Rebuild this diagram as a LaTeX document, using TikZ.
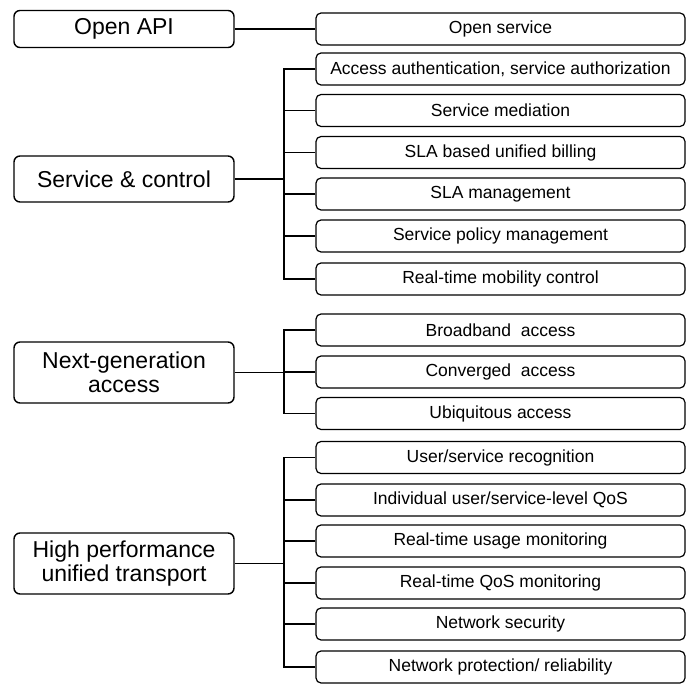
\documentclass[tikz,border=0pt]{standalone}
\usepackage{fontspec}
\setmainfont{Liberation Sans}
\begin{document}
\begin{tikzpicture}[x=1pt,y=-1pt,
	group/.style={draw,line width=1.4pt,rounded corners=6pt,minimum width=220pt,align=center,inner sep=0pt,font=\fontsize{23}{24}\selectfont},
	item/.style={draw,line width=1.2pt,rounded corners=5pt,minimum width=369pt,minimum height=32pt,inner sep=0pt,font=\fontsize{17.5}{20}\selectfont},
	link/.style={line width=1.3pt}]
	\useasboundingbox (0,0) rectangle (693,684);
	% left column
	\node[group,minimum height=37pt] (api) at (124,29) {Open API};
	\node[group,minimum height=46pt] (sc) at (124,179) {Service \& control};
	\node[group,minimum height=61pt] (nga) at (124,372.5) {Next-generation\\access};
	\node[group,minimum height=61pt] (hpt) at (124,563.5) {High performance\\unified transport};
	% right column
	\node[item] (os) at (500.5,29) {Open service};
	\node[item] (aa) at (500.5,69) {Access authentication, service authorization};
	\node[item] (sm) at (500.5,110.5) {Service mediation};
	\node[item] (sb) at (500.5,152.5) {SLA based unified billing};
	\node[item] (sl) at (500.5,194) {SLA management};
	\node[item] (sp) at (500.5,236) {Service policy management};
	\node[item] (rm) at (500.5,279) {Real-time mobility control};
	\node[item] (ba) at (500.5,330) {Broadband~ access};
	\node[item] (ca) at (500.5,372) {Converged~ access};
	\node[item] (ua) at (500.5,413.5) {Ubiquitous access};
	\node[item] (ur) at (500.5,457.5) {User/service recognition};
	\node[item] (iq) at (500.5,500) {Individual user/service-level QoS};
	\node[item] (um) at (500.5,541) {Real-time usage monitoring};
	\node[item] (qm) at (500.5,583) {Real-time QoS monitoring};
	\node[item] (ns) at (500.5,624) {Network security};
	\node[item] (np) at (500.5,667) {Network protection/ reliability};
	\coordinate (bus) at (284,0);
	% connectors
	\draw[link] (api) -- (os);
	\draw[link] (sc) -- (sc -| bus);
	\draw[link] (aa.west) -- (aa.west -| bus) |- (rm.west);
	\foreach \n in {sm,sb,sl,sp} \draw[link] (\n.west) -- (\n.west -| bus);
	\draw[link] (nga) -- (nga -| bus);
	\draw[link] (ba.west) -- (ba.west -| bus) |- (ua.west);
	\draw[link] (ca.west) -- (ca.west -| bus);
	\draw[link] (hpt) -- (hpt -| bus);
	\draw[link] (ur.west) -- (ur.west -| bus) |- (np.west);
	\foreach \n in {iq,um,qm,ns} \draw[link] (\n.west) -- (\n.west -| bus);
\end{tikzpicture}
\end{document}
